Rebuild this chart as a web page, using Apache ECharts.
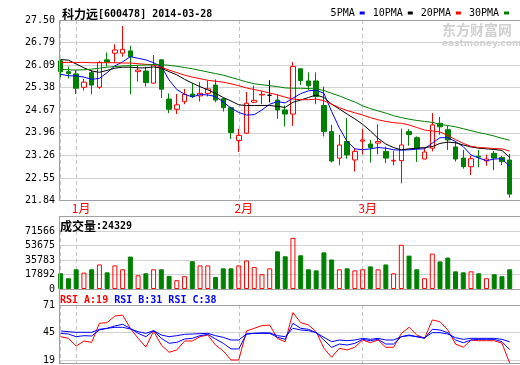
<!DOCTYPE html>
<html><head><meta charset="utf-8">
<script src="https://cdn.jsdelivr.net/npm/echarts@6/dist/echarts.min.js"></script>
<style>html,body{margin:0;padding:0;background:#fff}#c{width:520px;height:365px}</style>
</head><body><div id="c"></div>
<script>
const stockName = '科力远';
const stockCode = '600478';
const dates = ['2013-12-30','2013-12-31','2014-01-02','2014-01-03','2014-01-06','2014-01-07','2014-01-08','2014-01-09','2014-01-10','2014-01-13','2014-01-14','2014-01-15','2014-01-16','2014-01-17','2014-01-20','2014-01-21','2014-01-22','2014-01-23','2014-01-24','2014-01-27','2014-01-28','2014-01-29','2014-01-30','2014-02-07','2014-02-10','2014-02-11','2014-02-12','2014-02-13','2014-02-14','2014-02-17','2014-02-18','2014-02-19','2014-02-20','2014-02-21','2014-02-24','2014-02-25','2014-02-26','2014-02-27','2014-02-28','2014-03-03','2014-03-04','2014-03-05','2014-03-06','2014-03-07','2014-03-10','2014-03-11','2014-03-12','2014-03-13','2014-03-14','2014-03-17','2014-03-18','2014-03-19','2014-03-20','2014-03-21','2014-03-24','2014-03-25','2014-03-26','2014-03-27','2014-03-28'];
const opens = [26.22,25.88,25.81,25.39,25.85,25.39,26.25,26.46,26.46,26.53,25.88,25.90,25.52,26.25,25.02,24.70,24.94,25.18,25.12,25.20,25.46,25.03,24.75,23.72,23.95,24.92,25.15,25.14,24.99,24.68,24.55,25.97,25.59,25.59,24.82,24.00,23.17,23.69,23.11,23.70,23.61,23.64,23.38,23.08,23.09,24.00,23.81,23.14,23.48,24.26,24.06,23.52,23.17,22.90,23.23,23.08,23.32,23.19,23.11];
const highs = [26.26,26.04,25.93,25.65,25.93,26.22,26.48,26.74,27.31,26.69,26.09,26.04,26.40,26.26,25.20,25.18,25.34,25.52,25.55,25.60,25.64,25.06,24.78,24.09,25.24,25.44,25.28,25.61,25.17,24.82,26.18,25.98,25.86,25.86,25.41,24.21,23.90,24.42,23.48,24.09,23.74,24.23,23.53,23.40,24.09,24.08,23.85,23.50,24.58,24.46,24.18,23.69,23.43,23.25,23.43,23.28,23.39,23.24,23.30];
const lows = [25.70,25.67,25.18,25.29,25.17,25.34,26.04,26.16,26.35,25.17,25.57,25.41,25.50,25.05,24.58,24.55,24.86,25.05,24.94,25.10,24.92,24.63,23.77,23.36,23.93,24.89,24.86,24.92,24.40,24.16,24.18,25.46,25.31,24.86,23.85,23.03,22.94,23.15,22.75,23.29,23.03,23.29,23.01,22.94,22.38,23.56,23.05,23.13,23.38,23.90,23.42,23.06,22.84,22.64,22.88,22.93,22.79,22.95,21.93];
const closes = [25.88,25.82,25.36,25.55,25.46,26.17,26.18,26.56,26.58,26.35,25.93,25.54,26.09,25.33,24.70,24.84,25.17,25.10,25.20,25.34,24.99,24.75,23.97,23.88,24.89,24.98,25.17,25.14,24.68,24.55,26.04,25.60,25.44,25.10,24.00,23.08,23.58,23.27,23.38,23.74,23.50,23.69,23.17,23.10,23.58,23.91,23.47,23.36,24.21,24.15,23.74,23.14,22.90,23.15,23.20,23.14,23.17,23.06,22.04];
const ma5 = [25.80,25.75,25.75,25.71,25.64,25.67,25.85,26.06,26.19,26.35,26.30,26.25,26.16,26.04,25.62,25.32,25.17,25.09,25.16,25.15,25.10,24.93,24.74,24.60,24.52,24.53,24.68,24.86,24.94,24.90,25.05,25.19,25.28,25.30,25.20,24.63,24.11,23.69,23.46,23.43,23.46,23.50,23.48,23.43,23.42,23.43,23.45,23.46,23.64,23.81,23.81,23.69,23.53,23.27,23.17,23.09,23.14,23.15,22.91];
const ma10 = [26.26,26.24,26.12,26.00,25.90,25.86,25.92,25.99,26.02,26.02,26.00,26.00,26.03,25.99,25.88,25.78,25.64,25.52,25.41,25.31,25.20,25.07,24.96,24.84,24.82,24.82,24.82,24.82,24.79,24.76,24.92,24.99,25.07,25.15,25.07,24.86,24.71,24.55,24.40,24.23,24.02,23.79,23.61,23.50,23.43,23.46,23.48,23.50,23.53,23.63,23.67,23.65,23.58,23.52,23.48,23.46,23.44,23.41,23.19];
const ma20 = [26.17,26.17,26.17,26.17,26.16,26.16,26.16,26.16,26.15,26.15,26.13,26.11,26.09,26.02,25.93,25.85,25.77,25.71,25.66,25.61,25.58,25.55,25.50,25.44,25.37,25.32,25.27,25.21,25.15,25.08,25.02,25.00,25.00,25.02,24.97,24.86,24.75,24.66,24.59,24.52,24.44,24.37,24.32,24.28,24.26,24.21,24.13,24.05,24.02,23.99,23.88,23.75,23.63,23.54,23.50,23.49,23.47,23.46,23.39];
const ma30 = [25.95,25.94,25.93,25.94,25.96,25.99,26.02,26.04,26.06,26.07,26.08,26.09,26.10,26.10,26.08,26.05,26.01,25.97,25.92,25.87,25.82,25.77,25.70,25.63,25.56,25.50,25.47,25.44,25.41,25.37,25.36,25.36,25.35,25.34,25.29,25.20,25.12,25.02,24.93,24.81,24.72,24.65,24.58,24.50,24.44,24.39,24.35,24.32,24.29,24.23,24.19,24.15,24.09,24.03,23.97,23.92,23.86,23.79,23.73];
const volumes = [19400,13300,24300,20200,24300,30300,20600,29100,24300,40000,17000,19400,24300,24300,16200,10900,15800,34300,29100,29100,14900,25500,25500,29100,35200,27100,18200,25500,46500,40400,63100,41600,24300,23000,45200,36400,24300,25500,23000,24300,27900,24300,30300,19400,54600,41200,24300,13300,43700,34000,38800,21800,20600,21800,19400,13300,18200,15800,24329];
const rsiA = [42.6,41.1,34.2,38.7,37.5,54.6,55.2,61.1,62.0,50.0,41.1,33.3,47.5,35.1,28.6,30.7,38.7,38.7,42.6,44.1,35.1,29.8,21.7,21.7,47.7,50.1,52.5,53.0,41.0,38.0,64.2,55.2,53.1,47.1,32.2,24.1,32.2,30.7,33.1,39.6,37.2,39.6,33.1,33.1,45.5,51.0,44.1,41.1,57.6,56.0,48.6,36.0,33.1,39.6,39.0,39.0,39.0,36.7,19];
const rsiB = [45.6,45.0,42.6,43.5,43.2,48.6,50.1,52.2,53.7,50.1,45.6,42.6,48.0,41.1,36.7,37.5,40.5,41.1,43.5,44.7,40.5,36.7,31.6,31.6,45.0,45.6,45.6,45.6,42.0,40.3,54.6,50.1,49.2,46.2,39.6,33.0,36.0,35.1,36.6,40.2,39.0,40.2,36.0,36.0,42.6,44.1,42.6,41.1,49.2,48.6,46.2,39.6,37.2,39.6,40.2,40.2,40.2,38.1,31];
const rsiC = [47.7,47.1,46.5,46.5,46.5,49.2,50.1,51.0,51.0,49.5,47.1,45.6,48.0,44.1,42.6,43.5,44.7,45.0,45.3,45.6,43.5,42.0,39.6,39.6,45.0,45.6,46.0,46.0,43.5,42.6,50.1,48.6,48.0,46.2,42.0,38.1,39.6,39.0,39.6,41.1,40.2,41.1,39.6,39.6,42.6,43.5,42.6,41.7,46.2,46.2,45.0,41.7,40.2,41.1,41.1,41.1,41.1,40.2,38];
const priceTicks = ['21.84','22.55','23.26','23.96','24.67','25.38','26.09','26.79','27.50'];
const volTicks = ['0','17892','35783','53675','71566'];
const rsiTicks = ['19','45','71'];
const maNames = ['5PMA','10PMA','20PMA','30PMA'];

const MONO = '"DejaVu Sans Mono", monospace';
const CJK = '"Noto Sans CJK SC", sans-serif';
const RED = '#ff0000', GREEN = '#008000', BLUE = '#0000ff';
const GRID_C = '#d2d2d2', FRAME_C = '#a0a0a0';

function rangeOf(ticks){
  const a = parseFloat(ticks[0]), b = parseFloat(ticks[ticks.length-1]);
  return {min:a, max:b, interval:(b-a)/(ticks.length-1)};
}
const pR = rangeOf(priceTicks), vR = rangeOf(volTicks), rR = rangeOf(rsiTicks);
const fmt = (ticks, r) => v => ticks[Math.round((v - r.min)/r.interval)] || '';

const month = i => dates[i].slice(5,7);
const isMonthStart = i => i > 0 && month(i) !== month(i-1);
const isSplit = i => i === 0 || isMonthStart(i);

const L = 60.7, R = 10.3;
const panels = [
  {top: 20, height: 180.5},
  {top: 231, height: 58},
  {top: 305, height: 58}
];
const grids = [];
panels.forEach(p => {
  grids.push({left: 59, right: 0, top: p.top, height: p.height});
  grids.push({left: L, right: R, top: p.top, height: p.height});
});

const dashed = {show: true, interval: (i) => isSplit(i), lineStyle: {color: '#c4c4c4', type: [4,3], width: 1}};
const xAxes = [];
const yAxes = [];
const ranges = [[pR, priceTicks], [vR, volTicks], [rR, rsiTicks]];
panels.forEach((p, k) => {
  xAxes.push({type: 'value', gridIndex: 2*k, show: false, min: 0, max: 1});
  xAxes.push({
    type: 'category', gridIndex: 2*k+1, data: dates, boundaryGap: false,
    axisLine: {show: false}, axisTick: {show: false},
    axisLabel: k === 0 ? {
      show: true, interval: (i) => isMonthStart(i),
      formatter: (v) => parseInt(v.slice(5,7), 10) + '月',
      color: RED, fontSize: 12, fontFamily: CJK, margin: 2, padding: [0,0,0,10]
    } : {show: false},
    splitLine: dashed
  });
  const [r, ticks] = ranges[k];
  yAxes.push({
    type: 'value', gridIndex: 2*k, min: r.min, max: r.max, interval: r.interval,
    axisLine: {show: false}, axisTick: {show: false},
    axisLabel: {formatter: fmt(ticks, r), color: '#000', fontSize: 10, fontFamily: MONO, margin: 4},
    splitLine: {show: true, lineStyle: {color: GRID_C, width: 1}}
  });
  yAxes.push({type: 'value', gridIndex: 2*k+1, min: r.min, max: r.max, show: false, splitLine: {show: false}});
});

const candleData = dates.map((d, i) => [opens[i], closes[i], lows[i], highs[i]]);
const volData = volumes.map((v, i) => ({
  value: v,
  itemStyle: closes[i] >= opens[i]
    ? {color: 'rgba(255,255,255,0)', borderColor: RED, borderWidth: 1}
    : {color: GREEN, borderColor: GREEN, borderWidth: 1}
}));

const maData = [ma5, ma10, ma20, ma30];
const maColors = [BLUE, '#000000', RED, GREEN];
const series = [{
  type: 'candlestick', xAxisIndex: 1, yAxisIndex: 1, data: candleData, barWidth: 5, clip: false,
  itemStyle: {color: 'rgba(255,255,255,0)', color0: GREEN, borderColor: RED, borderColor0: GREEN,
              borderColorDoji: '#000000', borderWidth: 1}
}];
maNames.forEach((n, k) => series.push({
  type: 'line', name: n, xAxisIndex: 1, yAxisIndex: 1, data: maData[k], symbol: 'none',
  color: maColors[k], lineStyle: {width: 1, color: maColors[k]}
}));
series.push({type: 'bar', xAxisIndex: 3, yAxisIndex: 3, data: volData, barWidth: 5, clip: false});
[[rsiA, RED], [rsiB, BLUE], [rsiC, BLUE]].forEach(([d, c]) => series.push({
  type: 'line', xAxisIndex: 5, yAxisIndex: 5, data: d, symbol: 'none', clip: false,
  color: c, lineStyle: {width: 1, color: c}
}));

const hline = (y, x1, x2) => ({type: 'line', silent: true, z: 50,
  shape: {x1: x1, y1: y, x2: x2, y2: y}, style: {stroke: FRAME_C, lineWidth: 1}});
const vline = (x, y1, y2) => ({type: 'line', silent: true, z: 50,
  shape: {x1: x, y1: y1, x2: x, y2: y2}, style: {stroke: FRAME_C, lineWidth: 1}});

const last = dates.length - 1;
const option = {
  animation: false,
  backgroundColor: '#ffffff',
  grid: grids,
  xAxis: xAxes,
  yAxis: yAxes,
  series: series,
  legend: {
    data: maNames, right: 11, top: 8, padding: 0, itemGap: 8, align: 'right',
    icon: 'rect', itemWidth: 5, itemHeight: 3, selectedMode: false,
    textStyle: {color: '#000', fontSize: 10, fontFamily: MONO}
  },
  title: [
    {left: 62, top: 7, padding: 0,
     text: '{a|' + stockName + '}{b|[' + stockCode + '] ' + dates[last] + '}',
     textStyle: {fontSize: 10, fontFamily: MONO, rich: {
       a: {fontSize: 12, fontFamily: CJK, color: '#000', lineHeight: 14},
       b: {fontSize: 10, fontFamily: MONO, color: '#000', lineHeight: 14}}}},
    {left: 60, top: 219, padding: 0,
     text: '{a|成交量}{b|:' + volumes[last] + '}',
     textStyle: {fontSize: 10, fontFamily: MONO, rich: {
       a: {fontSize: 12, fontFamily: CJK, color: '#000', lineHeight: 14},
       b: {fontSize: 10, fontFamily: MONO, color: '#000', lineHeight: 14}}}},
    {left: 60, top: 293, padding: 0,
     text: '{r|RSI_A:' + rsiA[last] + '} {u|RSI_B:' + rsiB[last] + '} {u|RSI_C:' + rsiC[last] + '}',
     textStyle: {fontSize: 10, fontFamily: MONO, rich: {
       r: {fontSize: 10, fontFamily: MONO, color: RED, lineHeight: 14},
       u: {fontSize: 10, fontFamily: MONO, color: BLUE, lineHeight: 14}}}}
  ],
  graphic: [
    {type: 'text', left: 442, top: 23, silent: true, z: 0,
     style: {text: '东方财富网', font: 'bold 14px "Noto Sans CJK SC"', fill: '#d0d0d0'}},
    {type: 'text', left: 442, top: 39, silent: true, z: 0,
     style: {text: 'eastmoney.com', font: 'bold 9px "DejaVu Sans"', fill: '#d0d0d0'}},
    hline(20.5, 59, 520), hline(200.5, 59, 520), vline(59.5, 20, 201),
    hline(216.5, 59, 520), hline(289.5, 59, 520), vline(59.5, 216, 290),
    hline(305.5, 59, 520), hline(363.5, 59, 520), vline(59.5, 290, 364)
  ]
};
const chart = echarts.init(document.getElementById('c'), null, {renderer: 'canvas'});
chart.setOption(option);
</script>
</body></html>
